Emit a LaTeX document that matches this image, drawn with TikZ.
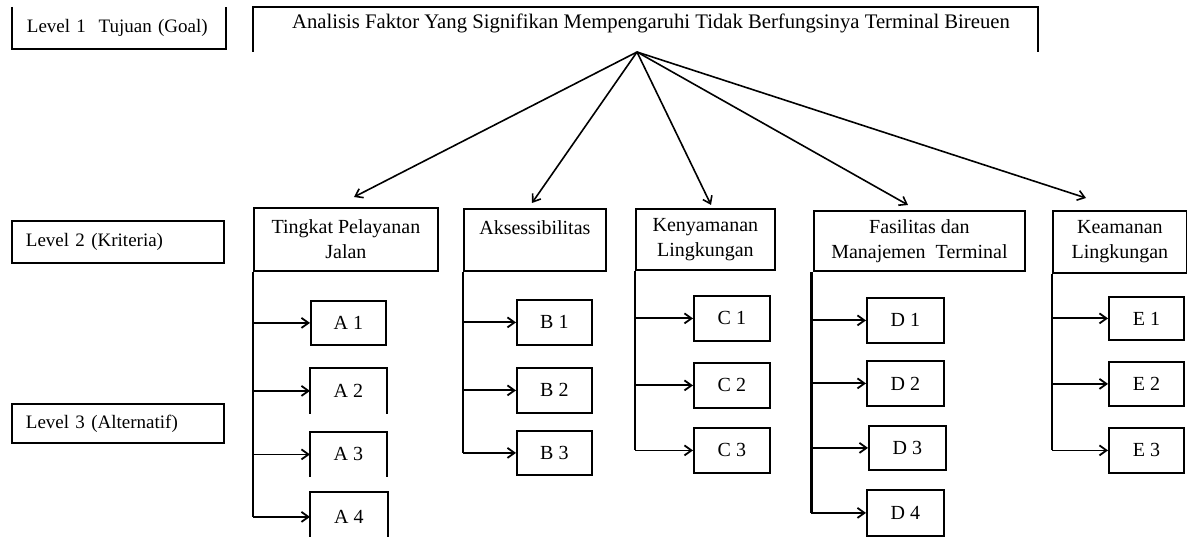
\documentclass[tikz,border=0pt]{standalone}
\usepackage{fontspec}
\setmainfont{Liberation Serif}
\usetikzlibrary{arrows.meta}
\begin{document}
\begin{tikzpicture}[x=1pt,y=-1pt,line width=1.8pt,
  txt/.style={font=\fontsize{19}{25}\selectfont},
  ctxt/.style={font=\fontsize{20}{25}\selectfont},
  lvl/.style={txt,anchor=north west,inner xsep=14pt,inner ysep=0pt,text width=184pt,align=left,minimum width=212,minimum height=40},
  crit/.style={draw,ctxt,anchor=north west,inner sep=0pt,align=center},
  alt/.style={draw,ctxt,anchor=north west,inner sep=0pt,minimum width=75,minimum height=44},
  altopen/.style={ctxt,anchor=north west,inner sep=0pt,minimum width=75,minimum height=44},
  link/.style={-{Straight Barb[length=7pt,width=10pt]},line width=1.6pt},
  branch/.style={-{Straight Barb[length=7pt,width=10pt]},line width=1.8pt}]
\useasboundingbox (0,0) rectangle (1187,537);

% level labels
\node[lvl] (L1) at (12,7) {Level 1\ \ Tujuan (Goal)};
\draw (L1.north west) -- (L1.south west) -- (L1.south east) -- (L1.north east);
\node[lvl,draw,minimum height=42] (L2) at (11,220) {Level 2 (Kriteria)};
\node[lvl,draw,minimum height=39] (L3) at (11,403) {Level 3 (Alternatif)};

% goal
\node[anchor=north west,minimum width=783,minimum height=43,inner sep=0pt] (goal) at (253,7) {};
\draw (goal.south west) -- (goal.north west) -- (goal.north east) -- (goal.south east);
\node[inner sep=0pt,font=\fontsize{20.7}{25}\selectfont] (goaltext) at (651,23) {Analisis Faktor Yang Signifikan Mempengaruhi Tidak Berfungsinya Terminal Bireuen};
\coordinate (apex) at (637,52);

% criteria
\node[crit,minimum width=184,minimum height=63] (A) at (253,207) {Tingkat Pelayanan\\Jalan};
\node[crit,minimum width=142,minimum height=62] (B) at (463,208) {Aksessibilitas\\\mbox{}};
\node[crit,minimum width=139,minimum height=61] (C) at (635,208) {Kenyamanan\\Lingkungan};
\node[crit,minimum width=211,minimum height=60] (D) at (813,210) {Fasilitas dan\\Manajemen\ \ Terminal};
\node[crit,minimum width=134,minimum height=62] (E) at (1052,210) {Keamanan\\Lingkungan};

\draw[link,shorten >=21.9pt] (apex) -- ([xshift=81.5pt]A.north west);
\draw[link,shorten >=6.1pt] (apex) -- ([xshift=65.5pt]B.north west);
\draw[link,shorten >=3.4pt] (apex) -- ([xshift=77.5pt]C.north west);
\draw[link,shorten >=10.2pt] (apex) -- ([xshift=103.9pt]D.north west);
\draw[link,shorten >=38.8pt] (apex) -- ([xshift=70.9pt]E.north west);

% alternatives A
\node[alt] (A1) at (310,300) {A 1};
\node[altopen] (A2) at (310,368) {A 2};
\draw (A2.south west) -- (A2.north west) -- (A2.north east) -- (A2.south east);
\node[altopen,minimum height=43] (A3) at (310,432) {A 3};
\draw (A3.south west) -- (A3.north west) -- (A3.north east) -- (A3.south east);
\node[altopen,minimum width=76,minimum height=48] (A4) at (310,492) {A 4};
\draw (A4.south west) -- (A4.north west) -- (A4.north east) -- (A4.south east);
\draw (A.south west) -- (A.south west |- A4.west);
\foreach \n in {A1,A2,A3,A4} \draw[branch] (A.south west |- \n.west) -- (\n.west);

% alternatives B
\node[alt,minimum height=45] (B1) at (516,299) {B 1};
\node[alt,minimum height=45] (B2) at (516,367) {B 2};
\node[alt] (B3) at (516,430) {B 3};
\draw (B.south west) -- (B.south west |- B3.west);
\foreach \n in {B1,B2,B3} \draw[branch] (B.south west |- \n.west) -- (\n.west);

% alternatives C
\node[alt,minimum width=76,minimum height=45] (C1) at (693,295) {C 1};
\node[alt,minimum width=76,minimum height=45] (C2) at (693,362) {C 2};
\node[alt,minimum width=76,minimum height=45] (C3) at (693,427) {C 3};
\draw (C.south west) -- (C.south west |- C3.west);
\foreach \n in {C1,C2,C3} \draw[branch] (C.south west |- \n.west) -- (\n.west);

% alternatives D
\node[alt,minimum width=77,minimum height=45] (D1) at (866,297) {D 1};
\node[alt,minimum width=77,minimum height=45] (D2) at (866,360) {D 2};
\node[alt,minimum width=77,minimum height=44] (D3) at (868,425) {D 3};
\node[alt,minimum width=77,minimum height=46] (D4) at (866,489) {D 4};
\coordinate (Dtrunk) at ([xshift=-2pt]D.south west);
\draw[line width=3pt] (Dtrunk) -- (Dtrunk |- D4.west);
\foreach \n in {D1,D2,D3,D4} \draw[branch] (Dtrunk |- \n.west) -- (\n.west);

% alternatives E
\node[alt,minimum height=43] (E1) at (1108,296) {E 1};
\node[alt] (E2) at (1108,361) {E 2};
\node[alt,minimum height=45] (E3) at (1108,427) {E 3};
\draw (E.south west) -- (E.south west |- E3.west);
\foreach \n in {E1,E2,E3} \draw[branch] (E.south west |- \n.west) -- (\n.west);
\end{tikzpicture}
\end{document}
